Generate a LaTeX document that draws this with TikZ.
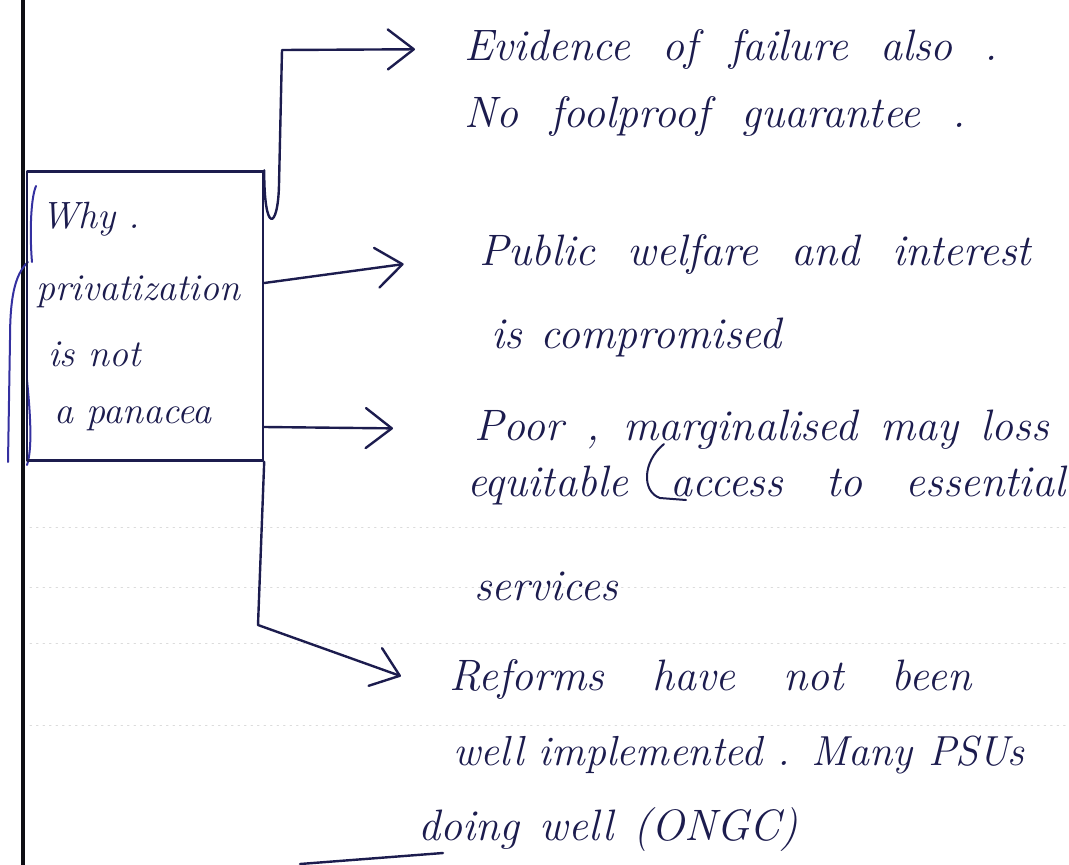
\documentclass[tikz,border=0pt]{standalone}
\usepackage{fontspec}
\setmainfont{Latin Modern Roman}
\usetikzlibrary{arrows.meta,positioning}
\definecolor{ink}{RGB}{28,28,78}
\definecolor{pen}{RGB}{52,48,160}
\definecolor{margin}{RGB}{14,14,20}
% spread the words of one written line over its width
\newcommand{\spread}[2]{\makebox[#1][s]{#2}}

\begin{document}
\begin{tikzpicture}[x=1pt,y=-1pt,>={Straight Barb[length=26pt,width=40pt,round]},
                    line width=2.4pt,line cap=round,line join=round]
  \tikzstyle{note}=[anchor=base west,inner sep=0pt,text=ink,
                    font=\itshape\fontsize{44}{50}\selectfont]
  \tikzstyle{inbox}=[note,font=\itshape\fontsize{38}{44}\selectfont]
  \tikzstyle{link}=[->,draw=ink]
  \tikzstyle{frame}=[draw=ink,minimum width=236pt,minimum height=289pt,inner sep=0pt]
  \tikzstyle{ruling}=[draw=black!14,line width=1pt,dash pattern=on 1.5pt off 5pt]

  \useasboundingbox (0,0) rectangle (1069,865);

  % faint rulings of the page
  \foreach \yy in {527,587,643,725}
    \draw[ruling] (30,\yy) -- (1069,\yy);

  % margin and pen marks on the left
  \draw[draw=margin,line width=4.5pt,line cap=butt] (23,0) -- (23,865);
  \draw[draw=pen,line width=2pt] (28,262) .. controls (14,275) and (10,300) .. (10,340) -- (8,462);
  \draw[draw=pen,line width=2pt] (36,186) .. controls (30,200) and (30,240) .. (32,262);
  \draw[draw=pen,line width=2pt] (27,380) .. controls (31,420) and (32,450) .. (27,465);

  % the question box
  \node[frame] (why) at (145,316) {};
  \node[inbox] (w1) at (40,228) {Why .};
  \node[inbox] (w2) at (35,300) {privatization};
  \node[inbox] (w3) at (47,366) {is not};
  \node[inbox] (w4) at (53,423) {a panacea};

  % the four reasons
  \node[note] (ev1)   at (463,60)  {\spread{534pt}{Evidence of failure also .}};
  \node[note] (ev2)   at (463,127) {\spread{502pt}{No foolproof guarantee .}};
  \node[note] (pub1)  at (478,265) {\spread{552pt}{Public welfare and interest}};
  \node[note] (pub2)  at (490,348) {\spread{290pt}{is compromised}};
  \node[note] (poor1) at (473,440) {\spread{575pt}{Poor , marginalised may loss}};
  \node[note] (poor2) at (466,496) {\spread{598pt}{equitable access to essential}};
  \node[note] (poor3) at (473,600) {services};
  \node[note] (ref1)  at (448,690) {\spread{522pt}{Reforms have not been}};
  \node[note,font=\itshape\fontsize{42}{48}\selectfont]
              (ref2)  at (452,765) {\spread{571pt}{well implemented . Many PSUs}};
  \node[note] (ref3)  at (417,840) {\spread{380pt}{doing well (ONGC)}};

  \coordinate (k1) at (282,50);
  \coordinate (k4) at (258,625);

  \draw[link,shorten >=48pt] (why.north east) .. controls (264,235) and (278,230) .. (279,185)
        -- (k1) -- (ev1.west);
  \draw[link,shorten >=75pt] ([yshift=33pt]why.east) -- (pub1.west);
  \draw[link,shorten >=80pt] ([yshift=-111pt]why.east) -- (poor1.west);
  \draw[link,shorten >=50pt] (why.south east) -- (k4) -- ([yshift=-14pt]ref1.west);

  % insertion mark under marginalised
  \draw[draw=ink,line width=2pt] (664,444) .. controls (642,462) and (642,492) .. (660,498) -- (686,500);

  % start of the next line at the bottom
  \draw[draw=ink] (300,864) -- (443,853);
\end{tikzpicture}
\end{document}
